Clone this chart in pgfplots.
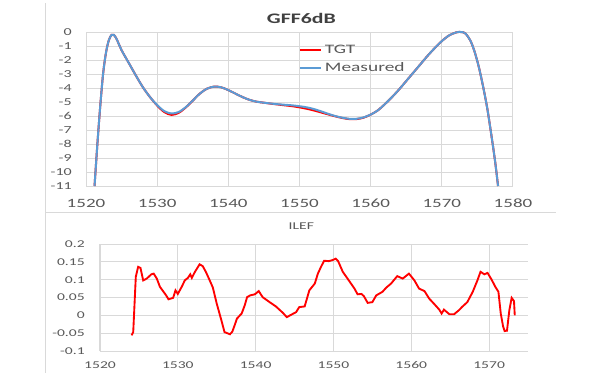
\documentclass[border=0pt]{standalone}
\usepackage{pgfplots}
\pgfplotsset{compat=1.18}
\usepackage{fontspec}
\setmainfont[FakeStretch=1.5]{Carlito}
\definecolor{txtgray}{RGB}{89,89,89}
\definecolor{ttlgray}{RGB}{64,64,64}
\definecolor{gridgray}{RGB}{217,217,217}
\definecolor{xred}{RGB}{255,0,0}
\definecolor{xblue}{RGB}{91,155,213}
\pgfplotsset{
  excel/.style={
    scale only axis,
    axis line style={draw=none},
    tick style={draw=none},
    grid=major,
    major grid style={gridgray, line width=0.75pt},
    ticklabel style={text=txtgray, inner sep=0pt},
    /pgf/number format/assume math mode=true,
    /pgf/number format/1000 sep={},
  }
}
\begin{document}
\begin{tikzpicture}
\path (0,0) rectangle (450pt,-287.25pt);
\draw[gridgray, line width=0.75pt] (33.75pt,-2.25pt) -- (33.75pt,-279.75pt);
\draw[gridgray, line width=0.75pt] (33.75pt,-159pt) -- (417pt,-159pt);

\begin{axis}[excel,
  at={(64.5pt,-139.5pt)}, anchor=south west,
  width=320.25pt, height=115.5pt,
  xmin=1520, xmax=1580, ymin=-11, ymax=0,
  xtick={1520,1530,...,1580},
  ytick={-11,-10,...,0},
  clip=false,
  xticklabel shift=9.75pt,
  yticklabel shift=10.5pt,
  xticklabel style={font=\fontsize{9.5}{11}\selectfont},
  yticklabel style={font=\fontsize{8}{9}\selectfont},
  legend style={draw=none, fill=none, at={(0.4895,0.8247)}, anchor=west,
    font=\fontsize{9.7}{11}\selectfont, text=txtgray, row sep=3pt, column sep=1.5pt,
    nodes={inner sep=0.5pt, text height=7pt, text depth=2pt}},
  legend cell align=left,
  legend image code/.code={\draw[#1] (0pt,0pt) -- (15.75pt,0pt);},
]
\addplot[xred, line width=1.5pt, smooth] coordinates {
(1521.2,-11) (1521.6,-8) (1522.0,-5.3) (1522.4,-3.0) (1522.8,-1.5) (1523.2,-0.6)
(1523.6,-0.2) (1523.9,-0.2) (1524.3,-0.5) (1525.0,-1.3) (1526.0,-2.2) (1527.0,-3.1)
(1528.0,-3.95) (1529.0,-4.65) (1530.0,-5.25) (1531.0,-5.72) (1532.0,-5.92) (1533.0,-5.78)
(1534.0,-5.4) (1535.0,-4.9) (1536.0,-4.4) (1537.0,-4.05) (1538.0,-3.9) (1539.0,-3.95)
(1540.0,-4.15) (1541.0,-4.4) (1542.0,-4.65) (1543.0,-4.85) (1544.0,-4.98) (1545.0,-5.05)
(1546.0,-5.12) (1547.0,-5.18) (1548.0,-5.24) (1549.0,-5.3) (1550.0,-5.38) (1551.0,-5.48)
(1552.0,-5.6) (1553.0,-5.74) (1554.0,-5.88) (1555.0,-6.02) (1556.0,-6.14) (1557.0,-6.22)
(1558.0,-6.22) (1559.0,-6.12) (1560.0,-5.9) (1561.0,-5.6) (1562.0,-5.15) (1563.0,-4.65)
(1564.0,-4.1) (1565.0,-3.5) (1566.0,-2.9) (1567.0,-2.3) (1568.0,-1.7) (1569.0,-1.15)
(1570.0,-0.65) (1571.0,-0.25) (1572.0,-0.03) (1572.7,0) (1573.3,-0.1) (1574.0,-0.6)
(1574.6,-1.4) (1575.2,-2.5) (1575.8,-3.9) (1576.4,-5.5) (1577.0,-7.5) (1577.5,-9.3) (1577.9,-11)
};
\addlegendentry{TGT}
\addplot[xblue, line width=1.5pt, smooth] coordinates {
(1521.2,-11) (1521.6,-8) (1522.0,-5.3) (1522.4,-3.0) (1522.8,-1.5) (1523.2,-0.6)
(1523.6,-0.2) (1523.9,-0.2) (1524.3,-0.5) (1525.0,-1.3) (1526.0,-2.2) (1527.0,-3.1)
(1528.0,-3.95) (1529.0,-4.65) (1530.0,-5.22) (1531.0,-5.65) (1532.0,-5.82) (1533.0,-5.72)
(1534.0,-5.38) (1535.0,-4.9) (1536.0,-4.4) (1537.0,-4.05) (1538.0,-3.9) (1539.0,-3.95)
(1540.0,-4.15) (1541.0,-4.4) (1542.0,-4.65) (1543.0,-4.85) (1544.0,-4.98) (1545.0,-5.05)
(1546.0,-5.11) (1547.0,-5.16) (1548.0,-5.2) (1549.0,-5.24) (1550.0,-5.3) (1551.0,-5.38)
(1552.0,-5.5) (1553.0,-5.66) (1554.0,-5.84) (1555.0,-6.0) (1556.0,-6.12) (1557.0,-6.2)
(1558.0,-6.2) (1559.0,-6.1) (1560.0,-5.9) (1561.0,-5.6) (1562.0,-5.15) (1563.0,-4.65)
(1564.0,-4.1) (1565.0,-3.5) (1566.0,-2.9) (1567.0,-2.3) (1568.0,-1.7) (1569.0,-1.15)
(1570.0,-0.65) (1571.0,-0.25) (1572.0,-0.03) (1572.7,0) (1573.3,-0.1) (1574.0,-0.6)
(1574.6,-1.4) (1575.2,-2.5) (1575.8,-3.9) (1576.4,-5.5) (1577.0,-7.5) (1577.5,-9.3) (1577.9,-11)
};
\addlegendentry{Measured}
\end{axis}

\begin{axis}[excel,
  at={(75pt,-263.25pt)}, anchor=south west,
  width=321pt, height=80.25pt,
  xmin=1520, xmax=1575, ymin=-0.1, ymax=0.2,
  xtick={1520,1530,...,1570},
  ytick={-0.1,-0.05,...,0.2},
  xticklabel shift=7.5pt,
  yticklabel shift=11.25pt,
  ticklabel style={font=\fontsize{7.8}{9}\selectfont},
  /pgf/number format/fixed, /pgf/number format/precision=2,
]
\addplot[xred, line width=1.4pt] coordinates {
(1524.06,-0.056) (1524.27,-0.047) (1524.6,0.108) (1524.9,0.136) (1525.2,0.133)
(1525.55,0.098) (1526.0,0.103) (1526.6,0.115) (1526.9,0.117) (1527.3,0.103)
(1527.7,0.08) (1528.5,0.056) (1528.8,0.045) (1529.4,0.049) (1529.7,0.07)
(1530.0,0.06) (1530.5,0.08) (1530.9,0.098) (1531.3,0.105) (1531.6,0.115)
(1531.8,0.105) (1532.2,0.122) (1532.8,0.143) (1533.2,0.138) (1533.6,0.122)
(1534.1,0.098) (1534.5,0.078) (1535.0,0.033) (1535.6,-0.014) (1536.0,-0.047)
(1536.7,-0.053) (1537.0,-0.046) (1537.3,-0.028) (1537.6,-0.009) (1538.2,0.005)
(1538.6,0.028) (1538.9,0.051) (1539.3,0.056) (1539.9,0.059) (1540.4,0.068)
(1540.9,0.051) (1541.8,0.037) (1542.6,0.025) (1543.5,0.007) (1544.0,-0.005)
(1544.6,0.002) (1545.2,0.009) (1545.6,0.023) (1546.3,0.025) (1546.9,0.07)
(1547.6,0.089) (1548.0,0.117) (1548.4,0.136) (1548.8,0.153) (1549.4,0.152)
(1549.9,0.155) (1550.3,0.159) (1550.6,0.152) (1551.2,0.122) (1552.1,0.094)
(1552.7,0.075) (1553.1,0.059) (1553.6,0.06) (1553.9,0.054) (1554.4,0.035)
(1555.0,0.037) (1555.5,0.056) (1556.3,0.066) (1556.8,0.078) (1557.4,0.089)
(1558.2,0.11) (1558.9,0.103) (1559.7,0.117) (1560.4,0.098) (1561.0,0.075)
(1561.7,0.068) (1562.3,0.047) (1562.9,0.033) (1563.6,0.016) (1563.9,0.005)
(1564.2,0.016) (1564.9,0.003) (1565.5,0.003) (1566.1,0.014) (1566.6,0.025)
(1567.2,0.037) (1567.9,0.066) (1568.5,0.098) (1568.9,0.122) (1569.4,0.115)
(1569.8,0.119) (1570.3,0.101) (1570.8,0.08) (1571.2,0.066) (1571.5,0.005)
(1571.8,-0.031) (1572.0,-0.044) (1572.3,-0.043) (1572.6,0.014) (1572.9,0.049)
(1573.2,0.04) (1573.3,0)
};
\end{axis}

\node[font=\bfseries\fontsize{10.9}{12}\selectfont, text=ttlgray, inner sep=0pt] at (226pt,-13.5pt) {GFF6dB};
\node[font=\fontsize{7.8}{9}\selectfont, text=txtgray, inner sep=0pt] at (226pt,-169.5pt) {ILEF};
\end{tikzpicture}
\end{document}
